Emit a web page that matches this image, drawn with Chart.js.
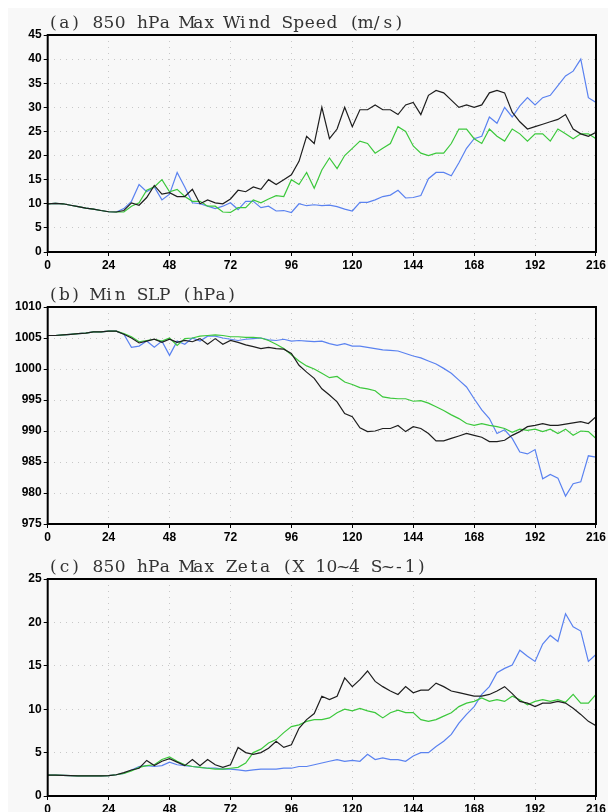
<!DOCTYPE html>
<html>
<head>
<meta charset="utf-8">
<script src="https://cdn.jsdelivr.net/npm/chart.js@4/dist/chart.umd.min.js"></script>
<style>
  body { margin: 0; background: #fff; }
  #bg { position: absolute; left: 8px; top: 8px; width: 600px; height: 804px; background: #f8f8f8; }
  canvas { position: absolute; left: 0; }
</style>
</head>
<body>
<div id="bg"></div>
<canvas id="windChart" width="608" height="272" style="top:0"></canvas>
<canvas id="slpChart" width="608" height="272" style="top:272px"></canvas>
<canvas id="zetaChart" width="608" height="272" style="top:544px"></canvas>
<script>
// forecast hour, every 3 h
const hours = [0,3,6,9,12,15,18,21,24,27,30,33,36,39,42,45,48,51,54,57,60,63,66,69,72,75,78,81,84,87,
  90,93,96,99,102,105,108,111,114,117,120,123,126,129,132,135,138,141,144,147,150,153,156,159,162,165,
  168,171,174,177,180,183,186,189,192,195,198,201,204,207,210,213,216];
const xTicks = [0, 24, 48, 72, 96, 120, 144, 168, 192, 216];

// (a) 850 hPa max wind speed (m/s)
const windBlack = [10.0,10.1,10.0,9.7,9.4,9.1,8.9,8.6,8.35,8.3,
  8.6,10.2,9.7,11.3,13.8,12.0,12.3,11.5,11.5,13.0,
  10.0,10.8,10.2,10.0,11.0,12.8,12.5,13.5,13.0,15.0,
  14.0,15.0,16.0,18.8,24.0,22.5,30.0,23.5,25.5,30.0,
  26.0,29.5,29.5,30.5,29.5,29.5,28.5,30.5,31.0,28.5,
  32.5,33.5,33.0,31.5,30.0,30.5,30.0,30.5,33.0,33.5,
  33.0,29.0,27.0,25.5,26.0,26.5,27.0,27.5,28.5,25.5,
  24.5,24.0,24.8];
const windGreen = [10.0,10.1,10.0,9.7,9.4,9.1,8.9,8.6,8.35,8.3,
  8.3,9.5,10.2,12.8,13.5,15.0,12.5,13.0,11.5,10.5,
  10.5,9.5,9.5,8.3,8.2,9.2,9.2,10.8,10.2,11.0,
  11.7,11.5,15.0,14.0,16.5,13.2,17.0,19.5,17.3,20.0,
  21.5,23.0,22.5,20.5,21.5,22.5,26.0,25.0,22.0,20.5,
  20.0,20.5,20.5,22.5,25.5,25.5,23.5,22.5,25.5,24.0,
  23.0,25.5,24.5,23.0,24.5,24.5,23.0,25.5,24.5,23.5,
  24.5,24.5,23.5];
const windBlue = [10.0,10.1,10.0,9.7,9.4,9.1,8.9,8.6,8.35,8.3,
  9.0,10.5,14.0,12.5,13.5,10.8,12.0,16.5,13.5,10.2,
  10.0,9.5,9.0,9.5,10.2,8.8,10.5,10.5,9.2,9.5,
  8.5,8.6,8.2,10.0,9.6,9.8,9.6,9.7,9.4,8.9,
  8.5,10.3,10.3,10.8,11.5,11.8,12.8,11.2,11.3,11.7,
  15.2,16.5,16.5,15.8,18.5,21.5,23.5,24.0,28.0,26.7,
  30.0,28.0,30.3,32.0,30.5,32.0,32.5,34.5,36.5,37.5,
  40.0,32.0,31.0];

// (b) minimum sea level pressure (hPa)
const slpBlack = [1005.4,1005.4,1005.5,1005.6,1005.7,1005.8,1006.0,1006.0,1006.1,1006.1,
  1005.6,1005.0,1004.2,1004.5,1004.8,1004.3,1004.8,1004.3,1004.6,1004.4,
  1004.9,1004.0,1004.9,1004.0,1004.6,1004.3,1003.9,1003.6,1003.3,1003.5,
  1003.3,1003.2,1002.5,1000.6,999.5,998.5,996.8,995.8,994.7,992.8,
  992.3,990.5,989.9,990.0,990.4,990.4,990.9,989.9,990.7,990.4,
  989.6,988.4,988.4,988.8,989.2,989.6,989.3,989.0,988.3,988.3,
  988.5,989.3,989.9,990.7,990.9,991.2,990.9,990.9,991.1,991.3,
  991.5,991.2,992.3];
const slpGreen = [1005.4,1005.4,1005.5,1005.6,1005.7,1005.8,1006.0,1006.0,1006.1,1006.1,
  1005.7,1005.2,1004.4,1004.6,1004.8,1004.5,1005.0,1003.8,1004.9,1005.0,
  1005.3,1005.4,1005.5,1005.4,1005.2,1005.2,1005.1,1005.1,1005.0,1004.6,
  1004.0,1003.3,1002.3,1001.3,1000.5,1000.0,999.3,998.6,998.8,997.9,
  997.5,997.0,996.8,996.5,995.5,995.3,995.2,995.2,994.8,994.9,
  994.5,993.9,993.3,992.6,992.0,991.2,990.9,991.2,990.9,990.7,
  990.4,989.8,990.3,990.1,990.3,989.9,990.3,989.6,990.3,989.3,
  990.0,989.9,988.8];
const slpBlue = [1005.4,1005.4,1005.5,1005.6,1005.7,1005.8,1006.0,1006.0,1006.1,1006.1,
  1005.6,1003.5,1003.7,1004.5,1003.5,1004.5,1002.2,1004.5,1004.0,1005.0,
  1004.5,1005.3,1005.3,1005.0,1004.8,1004.6,1004.8,1004.9,1005.0,1004.7,
  1004.6,1004.8,1004.5,1004.6,1004.5,1004.4,1004.5,1004.1,1003.8,1004.1,
  1003.7,1003.7,1003.5,1003.3,1003.1,1003.0,1002.9,1002.5,1002.1,1001.8,
  1001.3,1000.8,1000.1,999.3,998.2,997.1,995.2,993.4,992.0,989.6,
  990.2,988.8,986.6,986.3,987.0,982.3,983.0,982.4,979.5,981.5,
  981.8,986.0,985.8];

// (c) 850 hPa max relative vorticity (x 10^4 s^-1)
const zetaBlack = [2.4,2.4,2.38,2.35,2.33,2.32,2.32,2.32,2.35,2.45,
  2.7,3.0,3.2,4.1,3.5,4.0,4.3,3.9,3.5,4.2,
  3.5,4.2,3.6,3.3,3.6,5.6,5.0,4.8,5.0,5.5,
  6.3,5.6,5.9,7.8,8.8,9.5,11.5,11.1,11.5,13.6,
  12.6,13.4,14.4,13.2,12.6,12.1,11.7,12.6,11.9,12.2,
  12.2,13.0,12.6,12.1,11.9,11.7,11.5,11.5,11.7,12.1,
  12.6,11.8,10.9,10.7,10.3,10.7,10.7,10.9,10.7,10.1,
  9.4,8.6,8.1];
const zetaGreen = [2.4,2.4,2.38,2.35,2.33,2.32,2.32,2.32,2.35,2.45,
  2.6,2.9,3.3,3.5,3.6,4.2,4.5,4.0,3.6,3.4,
  3.3,3.2,3.1,3.1,3.2,3.3,3.8,5.0,5.4,6.1,
  6.5,7.3,8.0,8.2,8.6,8.8,8.8,9.0,9.6,10.0,
  9.8,10.1,9.8,9.6,9.0,9.6,9.9,9.6,9.6,8.8,
  8.6,8.8,9.2,9.6,10.3,10.7,10.9,11.3,10.9,11.1,
  10.9,11.5,11.1,10.5,10.9,11.1,10.9,11.1,10.8,11.7,
  10.7,10.7,11.7];
const zetaBlue = [2.4,2.4,2.38,2.35,2.33,2.32,2.32,2.32,2.35,2.45,
  2.6,3.0,3.4,3.5,3.4,3.5,3.9,3.6,3.5,3.4,
  3.3,3.2,3.2,3.1,3.1,3.0,2.9,3.0,3.1,3.1,
  3.1,3.2,3.2,3.4,3.4,3.6,3.8,4.0,4.2,4.0,
  4.1,4.0,4.8,4.2,4.4,4.2,4.2,4.0,4.6,5.0,
  5.0,5.7,6.3,7.1,8.4,9.4,10.3,11.7,12.6,14.2,
  14.7,15.1,16.8,16.1,15.5,17.5,18.5,17.8,21.0,19.5,
  19.0,15.5,16.3];

const BLACK = '#1e1e1e', GREEN = '#3cc83c', BLUE = '#5a82f0';

// draws the panel title in a wide, evenly spaced serif face
const panelTitle = {
  id: 'panelTitle',
  afterDraw(chart, args, opts) {
    const ctx = chart.ctx;
    ctx.save();
    ctx.font = '17px "DejaVu Serif"';
    ctx.fillStyle = '#333';
    ctx.textBaseline = 'alphabetic';
    const adv = 11.15;
    let x = chart.chartArea.left;
    for (const ch of opts.text) {
      const w = ctx.measureText(ch).width;
      ctx.fillText(ch, x + (adv - w) / 2, 28);
      x += adv;
    }
    ctx.restore();
  }
};

// thick black frame round the plot area
const frame = {
  id: 'frame',
  afterDatasetsDraw(chart) {
    const {ctx, chartArea: a} = chart;
    ctx.save();
    ctx.strokeStyle = '#000';
    ctx.lineWidth = 2;
    ctx.strokeRect(a.left, a.top, a.right - a.left, a.bottom - a.top);
    ctx.restore();
  }
};

function line(values, color) {
  return {
    data: hours.map((h, i) => ({x: h, y: values[i]})),
    borderColor: color,
    borderWidth: 1.2,
    pointRadius: 0,
    tension: 0,
    fill: false
  };
}

const tickFont = {family: '"Liberation Sans", Arial, sans-serif', size: 12, weight: 'bold'};

function makeChart(id, title, series, yMin, yMax) {
  return new Chart(document.getElementById(id), {
    type: 'line',
    data: {datasets: series},
    plugins: [panelTitle, frame],
    options: {
      responsive: false,
      animation: false,
      events: [],
      layout: {padding: {top: 35, right: 11, left: 0, bottom: 0}},
      plugins: {
        legend: {display: false},
        tooltip: {enabled: false},
        panelTitle: {text: title}
      },
      scales: {
        x: {
          type: 'linear', min: 0, max: 216,
          afterBuildTicks: s => { s.ticks = xTicks.map(v => ({value: v})); },
          afterFit: s => { s.height = 20; },
          ticks: {color: '#000', font: tickFont, padding: 2, maxRotation: 0, autoSkip: false,
                  callback: v => String(v)},
          grid: {color: '#c8c8c8', tickColor: '#000', tickLength: 4, tickWidth: 1},
          border: {display: false, dash: [1, 5]}
        },
        y: {
          min: yMin, max: yMax,
          afterFit: s => { s.width = 47.7; },
          ticks: {color: '#000', font: tickFont, padding: 2, stepSize: 5,
                  callback: v => String(v)},
          grid: {color: '#c8c8c8', tickColor: '#000', tickLength: 4, tickWidth: 1},
          border: {display: false, dash: [1, 5]}
        }
      }
    }
  });
}

makeChart('windChart', '(a) 850 hPa Max Wind Speed (m/s)',
  [line(windBlack, BLACK), line(windGreen, GREEN), line(windBlue, BLUE)], 0, 45);
makeChart('slpChart', '(b) Min SLP (hPa)',
  [line(slpBlack, BLACK), line(slpGreen, GREEN), line(slpBlue, BLUE)], 975, 1010);
makeChart('zetaChart', '(c) 850 hPa Max Zeta (X 10~4 S~-1)',
  [line(zetaBlack, BLACK), line(zetaGreen, GREEN), line(zetaBlue, BLUE)], 0, 25);
</script>
</body>
</html>
